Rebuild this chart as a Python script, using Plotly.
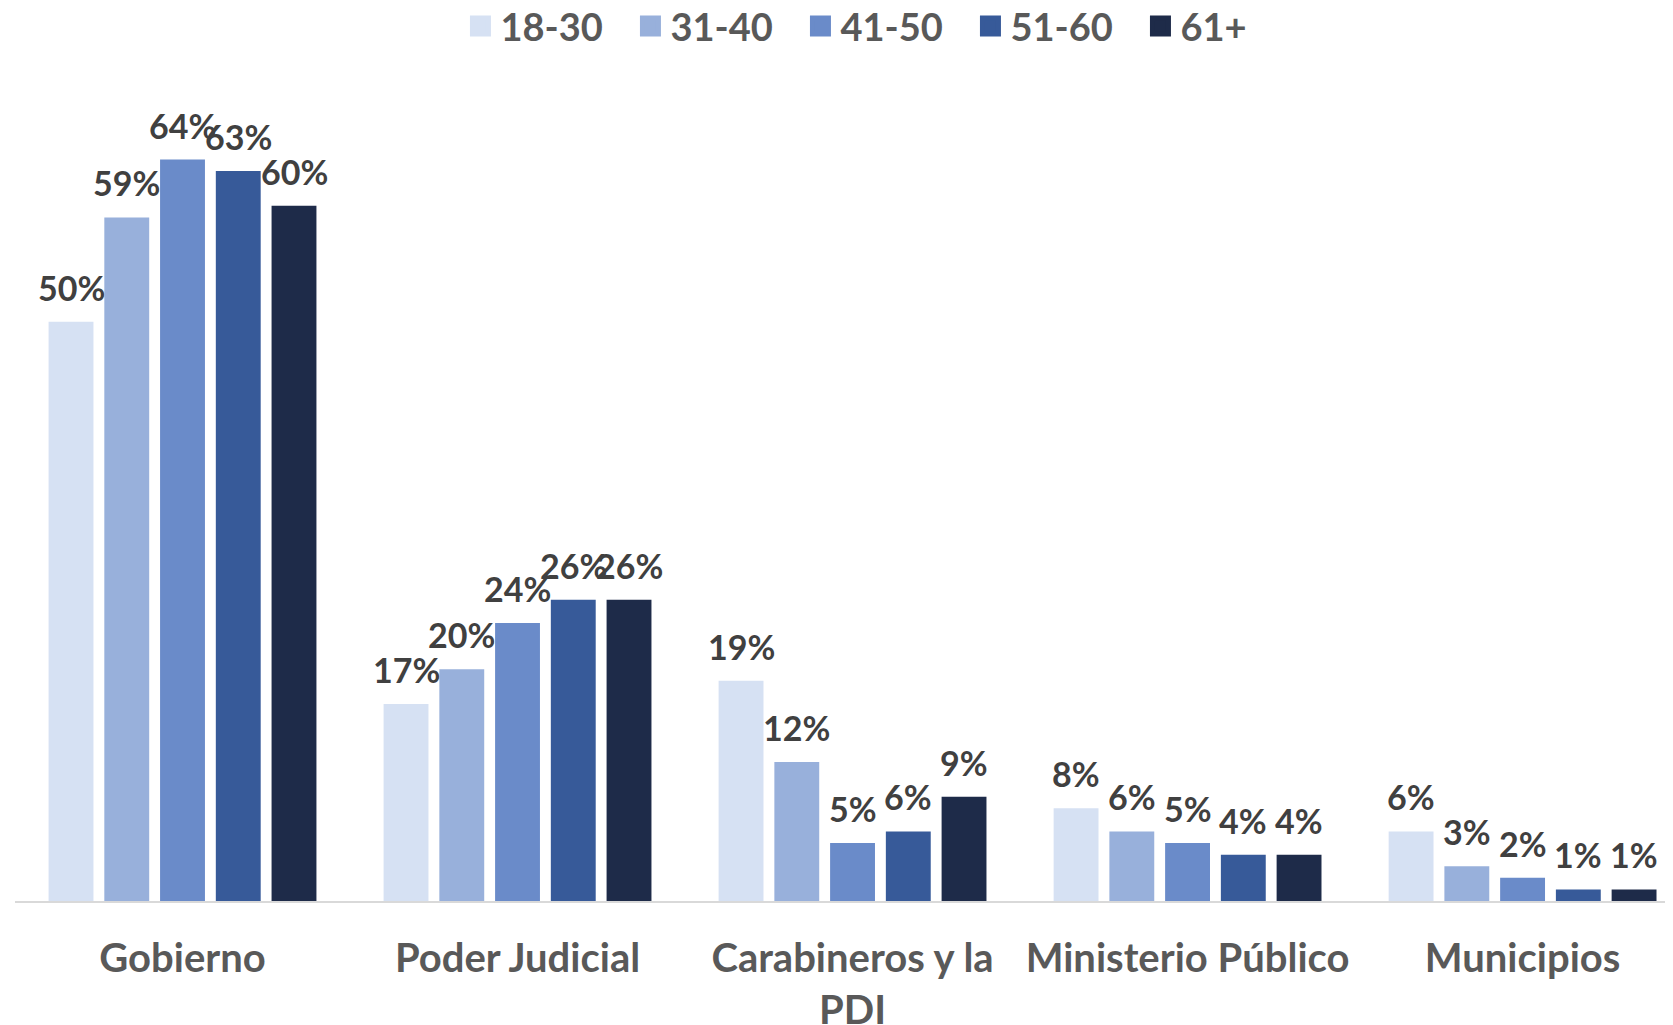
import plotly.graph_objects as go

categories = ["Gobierno", "Poder Judicial", "Carabineros y la<br>PDI", "Ministerio Público", "Municipios"]
series_names = ["18-30", "31-40", "41-50", "51-60", "61+"]
v_18_30 = [0.50, 0.17, 0.19, 0.08, 0.06]
v_31_40 = [0.59, 0.20, 0.12, 0.06, 0.03]
v_41_50 = [0.64, 0.24, 0.05, 0.05, 0.02]
v_51_60 = [0.63, 0.26, 0.06, 0.04, 0.01]
v_61p = [0.60, 0.26, 0.09, 0.04, 0.01]
series_values = [v_18_30, v_31_40, v_41_50, v_51_60, v_61p]
colors = ["#D6E1F3", "#98B0DB", "#6A8BC9", "#375A99", "#1E2B49"]

FONT = "Lato"
BARGAP = 0.168
n = len(series_names)
xs = list(range(len(categories)))

fig = go.Figure()
annotations = []
slot = (1 - BARGAP) / n
for j, (name, vals, col) in enumerate(zip(series_names, series_values, colors)):
    fig.add_trace(go.Bar(
        name=name, x=xs, y=vals, marker=dict(color=col, line=dict(width=0)),
        hoverinfo="skip", showlegend=False,
    ))
    off = -(1 - BARGAP) / 2 + slot * (j + 0.5)
    for i, v in enumerate(vals):
        annotations.append(dict(
            x=i + off, y=v, xref="x", yref="y", text=f"{round(v*100)}%",
            showarrow=False, yanchor="bottom", xanchor="center", yshift=12,
            font=dict(family=FONT, size=34, color="#404040", weight="bold"),
        ))

# legend entries with larger square swatches
for name, col in zip(series_names, colors):
    fig.add_trace(go.Scatter(
        name=name, x=[None], y=[None], mode="markers",
        marker=dict(symbol="square", size=16, color=col, line=dict(color=col, width=5)),
        hoverinfo="skip",
    ))

fig.update_layout(
    barmode="group", bargap=BARGAP, bargroupgap=0.195,
    width=1665, height=1017,
    margin=dict(l=7, r=0, t=82, b=124),
    paper_bgcolor="white", plot_bgcolor="white",
    annotations=annotations,
    legend=dict(orientation="h", x=0.525, xanchor="center", y=0.982, yref="container",
                yanchor="middle", traceorder="normal", itemsizing="trace",
                entrywidth=125,
                font=dict(family=FONT, size=38, color="#595959", weight="bold")),
    showlegend=True,
)
fig.update_xaxes(
    range=[-0.5, 4.449], tickvals=xs, ticktext=categories, tickangle=0, automargin=False,
    showline=True, linecolor="#D9D9D9", linewidth=2, showgrid=False, zeroline=False,
    ticks="", ticklabelstandoff=21,
    tickfont=dict(family=FONT, size=40, color="#595959", weight="bold"),
)
fig.update_yaxes(range=[0, 0.70], visible=False, showgrid=False, zeroline=False)

fig.write_html("out.html")
